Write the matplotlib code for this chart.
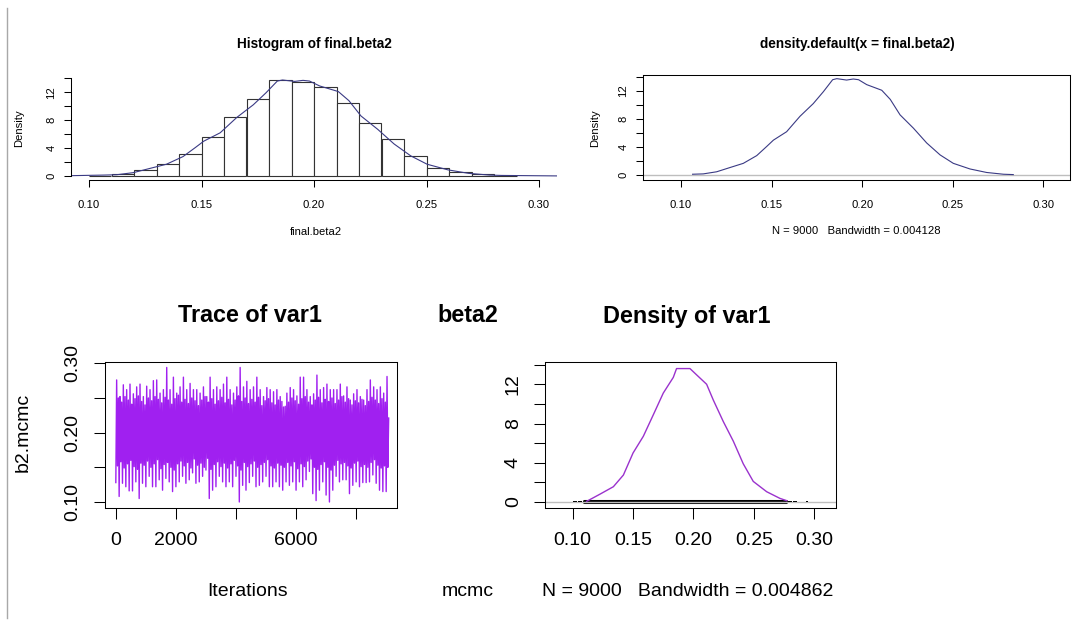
import matplotlib
matplotlib.use('Agg')
import matplotlib.pyplot as plt
import numpy as np
from matplotlib.lines import Line2D

plt.rcParams['font.family'] = 'Liberation Sans'

# ---- data ----
# histogram of final.beta2, density scale, bins of 0.01 from 0.10
hist_left = [0.10, 0.11, 0.12, 0.13, 0.14, 0.15, 0.16, 0.17, 0.18, 0.19,
             0.20, 0.21, 0.22, 0.23, 0.24, 0.25, 0.26, 0.27, 0.28]
hist_density = [0.02, 0.3, 0.86, 1.7, 3.2, 5.6, 8.4, 11.0, 13.8, 13.4,
                12.7, 10.5, 7.6, 5.3, 2.9, 1.1, 0.6, 0.25, 0.05]

# density.default(x = final.beta2), bw = 0.004128
dens1_x = [0.1064, 0.1123, 0.1197, 0.127, 0.1344, 0.1418, 0.1473, 0.151,
           0.1583, 0.1657, 0.173, 0.1786, 0.1837, 0.186, 0.1914, 0.1951,
           0.198, 0.2025, 0.2108, 0.2155, 0.2209, 0.2283, 0.2356, 0.243,
           0.2503, 0.2595, 0.2687, 0.278, 0.2834]
dens1_y = [0.15, 0.2, 0.5, 1.1, 1.7, 2.8, 4.1, 5.0, 6.2, 8.4, 10.2, 11.9,
           13.6, 13.75, 13.55, 13.7, 13.6, 12.9, 12.1, 10.8, 8.6, 6.7, 4.6,
           2.9, 1.7, 0.9, 0.4, 0.15, 0.1]

# coda density of var1, bw = 0.004862
dens2_x = [0.1116, 0.1226, 0.1337, 0.142, 0.150, 0.1585, 0.1668, 0.175,
           0.1833, 0.186, 0.1971, 0.2026, 0.2109, 0.2164, 0.2247, 0.233,
           0.2412, 0.2495, 0.2606, 0.2716, 0.2771]
dens2_y = [0.07, 0.8, 1.56, 2.75, 5.0, 6.7, 8.9, 11.1, 12.7, 13.6, 13.6,
           12.96, 12.0, 10.4, 8.2, 6.2, 3.9, 2.1, 1.05, 0.37, 0.14]

# trace of var1, read at evenly spaced iterations:
# spike tops / spike bottoms, and the edges of the solid core band
trace_hi = [0.276, 0.252, 0.269, 0.262, 0.270, 0.256, 0.266, 0.270, 0.252, 0.267,
            0.262, 0.275, 0.276, 0.257, 0.262, 0.294, 0.262, 0.280, 0.257, 0.266,
            0.280, 0.262, 0.271, 0.262, 0.262, 0.257, 0.266, 0.252, 0.280, 0.262,
            0.266, 0.262, 0.270, 0.280, 0.262, 0.257, 0.266, 0.294, 0.266, 0.274,
            0.262, 0.266, 0.280, 0.262, 0.252, 0.265, 0.262, 0.259, 0.262, 0.252,
            0.237, 0.257, 0.265, 0.262, 0.253, 0.280, 0.280, 0.262, 0.252, 0.256,
            0.283, 0.262, 0.265, 0.270, 0.262, 0.262, 0.262, 0.270, 0.253, 0.266,
            0.247, 0.256, 0.262, 0.252, 0.247, 0.262, 0.276, 0.266, 0.262, 0.266,
            0.257, 0.281]
trace_lo = [0.128, 0.108, 0.127, 0.122, 0.116, 0.116, 0.129, 0.105, 0.127, 0.122,
            0.137, 0.122, 0.122, 0.132, 0.117, 0.134, 0.129, 0.115, 0.122, 0.129,
            0.137, 0.127, 0.132, 0.142, 0.127, 0.129, 0.137, 0.146, 0.105, 0.117,
            0.122, 0.137, 0.129, 0.122, 0.129, 0.122, 0.137, 0.100, 0.124, 0.117,
            0.128, 0.137, 0.122, 0.124, 0.129, 0.137, 0.122, 0.122, 0.129, 0.122,
            0.117, 0.129, 0.124, 0.129, 0.117, 0.129, 0.122, 0.132, 0.144, 0.112,
            0.102, 0.117, 0.129, 0.110, 0.100, 0.117, 0.137, 0.129, 0.132, 0.132,
            0.112, 0.124, 0.129, 0.122, 0.128, 0.128, 0.129, 0.139, 0.127, 0.117,
            0.115, 0.115]
core_hi = [0.250, 0.244, 0.252, 0.247, 0.241, 0.249, 0.253, 0.245, 0.240, 0.250,
           0.246, 0.252, 0.248, 0.243, 0.251, 0.247, 0.241, 0.249, 0.254, 0.244,
           0.248, 0.242, 0.250, 0.246, 0.239, 0.247, 0.252, 0.244, 0.249, 0.241,
           0.246, 0.251, 0.243, 0.248, 0.240, 0.247, 0.253, 0.245, 0.250, 0.242,
           0.248, 0.244, 0.251, 0.239, 0.246, 0.249, 0.243, 0.240, 0.247, 0.245,
           0.238, 0.244, 0.250, 0.246, 0.241, 0.249, 0.252, 0.244, 0.240, 0.247,
           0.251, 0.243, 0.248, 0.245, 0.250, 0.242, 0.247, 0.252, 0.244, 0.249,
           0.240, 0.246, 0.243, 0.248, 0.239, 0.245, 0.251, 0.247, 0.242, 0.249,
           0.244, 0.221]
core_lo = [0.152, 0.158, 0.149, 0.155, 0.160, 0.151, 0.147, 0.156, 0.153, 0.159,
           0.150, 0.155, 0.161, 0.148, 0.154, 0.157, 0.150, 0.146, 0.155, 0.159,
           0.152, 0.157, 0.149, 0.162, 0.153, 0.156, 0.150, 0.163, 0.147, 0.154,
           0.158, 0.151, 0.156, 0.149, 0.155, 0.160, 0.152, 0.146, 0.157, 0.151,
           0.155, 0.159, 0.150, 0.154, 0.157, 0.161, 0.152, 0.149, 0.156, 0.153,
           0.150, 0.157, 0.152, 0.158, 0.148, 0.155, 0.151, 0.159, 0.162, 0.150,
           0.147, 0.154, 0.158, 0.150, 0.146, 0.153, 0.160, 0.155, 0.157, 0.152,
           0.149, 0.156, 0.159, 0.151, 0.154, 0.150, 0.157, 0.161, 0.153, 0.149,
           0.152, 0.150]
n_iter = 9000

# observation marks under the var1 density
rug_tail = [0.101, 0.103, 0.105, 0.107, 0.279, 0.281, 0.283, 0.285, 0.294]
rug_core = [0.109, 0.277]

# ---- layout helpers (pixel boxes) ----
W, H = 1073, 626
fig = plt.figure(figsize=(W / 100, H / 100), dpi=100)


def add_box(l, t, r, b):
    return fig.add_axes([l / W, 1 - b / H, (r - l) / W, (b - t) / H])


def ftext(x, y, s, **kw):
    fig.text(x / W, 1 - y / H, s, ha='center', va='center', **kw)


def r_axes(ax, size, ticklen, xpad, ypad, xt, xl, yt, yl):
    ax.set_xticks(xt)
    ax.set_xticklabels(xl)
    ax.set_yticks(yt)
    ax.set_yticklabels(yl)
    ax.tick_params(axis='x', direction='out', length=ticklen, width=0.75,
                   labelsize=size, pad=xpad)
    ax.tick_params(axis='y', direction='out', length=ticklen, width=0.75,
                   labelsize=size, pad=ypad)
    for lab in ax.get_yticklabels():
        lab.set_rotation(90)
        lab.set_va('center')
    for sp in ax.spines.values():
        sp.set_linewidth(0.75)


navy = '#3a3a84'
purple = '#a020f0'
small, small_title = 8.1, 9.8
big, big_title = 14, 16.8

# left border of the screenshot
fig.add_artist(Line2D([6.5 / W, 6.5 / W], [1 - 8 / H, 1 - 618 / H],
                      color='#a8a8a8', lw=1))

# ---- top left: histogram ----
ax1 = add_box(71, 75.8, 557, 180)
ax1.bar(hist_left, hist_density, width=0.01, align='edge', facecolor='white',
        edgecolor='#333333', linewidth=0.8)
ax1.plot([0.08] + dens1_x + [0.32], [0] + dens1_y + [0], color=navy, lw=0.8)
ax1.set_xlim(0.092, 0.308)
ax1.set_ylim(-0.552, 14.352)
r_axes(ax1, small, 5, 9.4, 5.5,
       [0.10, 0.15, 0.20, 0.25, 0.30], ['0.10', '0.15', '0.20', '0.25', '0.30'],
       list(range(0, 15, 2)), ['0', '', '4', '', '8', '', '12', ''])
ax1.spines['top'].set_visible(False)
ax1.spines['right'].set_visible(False)
ax1.spines['left'].set_bounds(0, 14)
ax1.spines['bottom'].set_bounds(0.10, 0.30)
ftext(314, 44, 'Histogram of final.beta2', fontsize=small_title, fontweight='bold')
ftext(316, 232, 'final.beta2', fontsize=small)
ftext(19, 128, 'Density', fontsize=small, rotation=90)

# ---- top right: density ----
ax2 = add_box(643.3, 75, 1070, 180)
ax2.axhline(0, color='#bebebe', lw=1)
ax2.plot(dens1_x, dens1_y, color=navy, lw=0.8)
ax2.set_xlim(0.0792, 0.3147)
ax2.set_ylim(-0.67, 14.27)
r_axes(ax2, small, 5, 9.4, 5.7,
       [0.10, 0.15, 0.20, 0.25, 0.30], ['0.10', '0.15', '0.20', '0.25', '0.30'],
       list(range(0, 15, 2)), ['0', '', '4', '', '8', '', '12', ''])
ftext(857, 44, 'density.default(x = final.beta2)', fontsize=small_title,
      fontweight='bold')
ftext(856, 231, 'N = 9000   Bandwidth = 0.004128', fontsize=small)
ftext(595, 128, 'Density', fontsize=small, rotation=90)

# ---- bottom left: trace ----
ax3 = add_box(105, 361.7, 397, 508.3)
it = np.linspace(1, n_iter, len(trace_hi))
q = (it[1] - it[0]) / 4
tx = np.column_stack([it, it + q, it + 2 * q, it + 3 * q]).ravel()
ty = np.column_stack([trace_lo, trace_hi, core_lo, core_hi]).ravel()
ax3.plot(tx, ty, color=purple, lw=1.0)
ax3.set_xlim(-359, 9360)
ax3.set_ylim(0.0909, 0.3023)
r_axes(ax3, big, 8, 9.4, 9.3,
       [0, 2000, 4000, 6000, 8000], ['0', '2000', '', '6000', ''],
       [0.10, 0.15, 0.20, 0.25, 0.30], ['0.10', '', '0.20', '', '0.30'])
ftext(250, 316, 'Trace of var1', fontsize=big_title, fontweight='bold')
ftext(248, 592, 'Iterations', fontsize=big)
ftext(23, 432, 'b2.mcmc', fontsize=big, rotation=90)

ftext(468, 316, 'beta2', fontsize=big_title, fontweight='bold')
ftext(468, 592, 'mcmc', fontsize=big)

# ---- bottom right: density of var1 ----
ax4 = add_box(545, 361.7, 836, 508.3)
ax4.axhline(0, color='#bebebe', lw=1)
ax4.plot(dens2_x, dens2_y, color='#9a32cd', lw=1.0)
rug_h = max(dens2_y) / 100
ax4.vlines(rug_tail, 0, rug_h, color='black', lw=1.4)
ax4.fill_between(rug_core, 0, rug_h, color='black', lw=2.2, edgecolor='black')
ax4.set_xlim(0.0771, 0.318)
ax4.set_ylim(-0.64, 14.3)
r_axes(ax4, big, 8, 9.4, 8.6,
       [0.10, 0.15, 0.20, 0.25, 0.30], ['0.10', '0.15', '0.20', '0.25', '0.30'],
       list(range(0, 15, 2)), ['0', '', '4', '', '8', '', '12', ''])
ftext(687, 316, 'Density of var1', fontsize=big_title, fontweight='bold')
ftext(688, 592, 'N = 9000   Bandwidth = 0.004862', fontsize=big)

fig.savefig('out.png', dpi=100)
